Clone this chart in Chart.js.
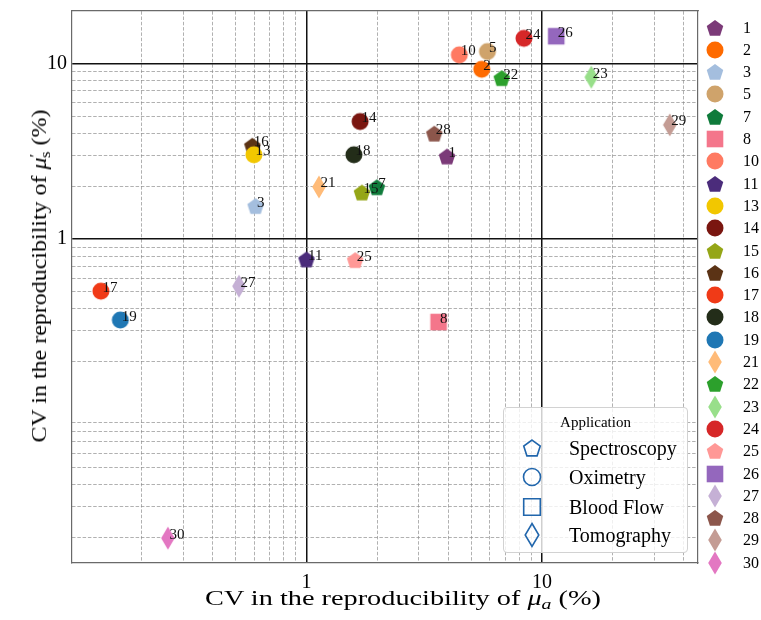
<!DOCTYPE html>
<html>
<head>
<meta charset="utf-8">
<script src="https://cdn.jsdelivr.net/npm/chart.js@4.4.1/dist/chart.umd.min.js"></script>
<style>
  html, body { margin: 0; padding: 0; background: #fff; }
  #wrap { position: relative; width: 761px; height: 620px; overflow: hidden; font-family: "Liberation Serif", "Times New Roman", serif; color: #000; }
  #chart { position: absolute; left: 0; top: 0; }
  .axis-title { position: absolute; white-space: nowrap; line-height: 1; }
  .axis-title sub, .axis-title sup { font-size: 0.7em; line-height: 0; }
  .axis-title sup { vertical-align: 0.45em; }
  .axis-title sub { vertical-align: -0.25em; }
  #idLegend { position: absolute; left: 700px; top: 0; width: 61px; height: 620px; }
  .id-row { position: absolute; left: 0; height: 22px; display: flex; align-items: center; font-size: 16px; }
  .id-row .mk { width: 30px; height: 22px; display: flex; justify-content: center; align-items: center; }
  .id-row span { margin-left: 13px; }
  #appLegend { position: absolute; left: 503px; top: 407px; width: 185px; height: 146px; box-sizing: border-box;
    background: rgba(255, 255, 255, 0.8); border: 1px solid #d2d2d2; border-radius: 4px; }
  #appLegend .title { position: absolute; left: 0; right: 0; top: 7px; text-align: center; font-size: 15px; line-height: 15px; }
  .app-row { position: absolute; left: 12px; height: 26px; display: flex; align-items: center; font-size: 20px; }
  .app-row .mk { width: 32px; height: 26px; display: flex; justify-content: center; align-items: center; }
  .app-row span { margin-left: 21px; }
</style>
</head>
<body>
<div id="wrap">
  <canvas id="chart" width="761" height="620"></canvas>
  <div id="xTitle" class="axis-title" style="font-size:22px">CV in the reproducibility of <i>μ</i><sub><i>a</i></sub> (%)</div>
  <div id="yTitle" class="axis-title" style="font-size:20px">CV in the reproducibility of <i>μ</i><sup>′</sup><sub style="margin-left:-0.25em">s</sub> (%)</div>
  <div id="idLegend"></div>
  <div id="appLegend"><div class="title">Application</div></div>
</div>
<script>
const pointIds = ["1", "2", "3", "5", "7", "8", "10", "11", "13", "14", "15", "16", "17", "18", "19", "21", "22", "23", "24", "25", "26", "27", "28", "29", "30"];
const cvAbsorption = [3.95, 5.55, 0.608, 5.87, 1.99, 3.64, 4.46, 1.00, 0.598, 1.69, 1.72, 0.589, 0.134, 1.59, 0.162, 1.13, 6.75, 16.2, 8.39, 1.61, 11.5, 0.517, 3.49, 34.9, 0.258];
const cvScattering = [2.95, 9.27, 1.54, 11.7, 1.97, 0.337, 11.2, 0.765, 3.02, 4.67, 1.84, 3.40, 0.505, 3.02, 0.346, 1.98, 8.24, 8.35, 13.9, 0.758, 14.3, 0.539, 3.98, 4.47, 0.0198];
const pointApps = ["Spectroscopy", "Oximetry", "Spectroscopy", "Oximetry", "Spectroscopy", "Blood Flow", "Oximetry", "Spectroscopy",
  "Oximetry", "Oximetry", "Spectroscopy", "Spectroscopy", "Oximetry", "Oximetry", "Oximetry", "Tomography", "Spectroscopy",
  "Tomography", "Oximetry", "Spectroscopy", "Blood Flow", "Tomography", "Spectroscopy", "Tomography", "Tomography"];
const pointColors = ["#7b3a78", "#fe6a00", "#a4bede", "#cfa36b", "#0f7b3b", "#f4768b", "#ff7a62", "#4b2c7b", "#f2c700", "#7a1610",
  "#95a617", "#5b3315", "#f03a17", "#232d19", "#1f77b4", "#ffbb78", "#2ca02c", "#98df8a", "#d62728", "#ff9896",
  "#9467bd", "#c5b0d5", "#8c564b", "#c49c94", "#e377c2"];

const applications = ["Spectroscopy", "Oximetry", "Blood Flow", "Tomography"];
const appShapes = { "Spectroscopy": "pentagon", "Oximetry": "circle", "Blood Flow": "square", "Tomography": "diamond" };

const xMajorTicks = [1, 10];
const xMinorTicks = [0.2, 0.3, 0.4, 0.5, 0.6, 0.7, 0.8, 0.9, 2, 3, 4, 5, 6, 7, 8, 9, 20, 30, 40];
const yMajorTicks = [1, 10];
const yMinorTicks = [0.02, 0.03, 0.04, 0.05, 0.06, 0.07, 0.08, 0.09, 0.2, 0.3, 0.4, 0.5, 0.6, 0.7, 0.8, 0.9, 2, 3, 4, 5, 6, 7, 8, 9];
const xRange = [0.101, 46];
const yRange = [0.0143, 19.9];

const appColor = "#2166ac";
Chart.defaults.font.family = '"Liberation Serif", "Times New Roman", serif';
Chart.defaults.color = "#000";

// marker glyphs drawn on small canvases, used as pointStyle images
function makeMarker(shape, fill, stroke) {
  const c = document.createElement("canvas");
  c.width = 22;
  c.height = 28;
  const ctx = c.getContext("2d");
  const cx = 11, cy = 14;
  ctx.beginPath();
  if (shape === "circle") {
    ctx.arc(cx, cy, 8.5, 0, Math.PI * 2);
  } else if (shape === "square") {
    ctx.rect(cx - 8.3, cy - 8.3, 16.6, 16.6);
  } else if (shape === "pentagon") {
    for (let k = 0; k < 5; k++) {
      const a = -Math.PI / 2 + k * 2 * Math.PI / 5;
      const px = cx + 8.7 * Math.cos(a);
      const py = cy + 0.8 + 8.7 * Math.sin(a);
      if (k === 0) ctx.moveTo(px, py); else ctx.lineTo(px, py);
    }
    ctx.closePath();
  } else {
    ctx.moveTo(cx, cy - 11.5);
    ctx.lineTo(cx + 6.8, cy);
    ctx.lineTo(cx, cy + 11.5);
    ctx.lineTo(cx - 6.8, cy);
    ctx.closePath();
  }
  if (fill) {
    ctx.fillStyle = fill;
    ctx.fill();
  }
  if (stroke) {
    ctx.strokeStyle = stroke;
    ctx.lineWidth = 1.6;
    ctx.stroke();
  }
  return c;
}

function useTicks(values) {
  return (scale) => {
    scale.ticks = values.map((v) => ({ value: v }));
  };
}

function fixedSize(size) {
  return (scale) => {
    if (scale.isHorizontal()) scale.height = size;
    else scale.width = size;
    scale.paddingTop = scale.paddingBottom = scale.paddingLeft = scale.paddingRight = 0;
  };
}

const minorGrid = { color: "rgba(140,140,140,0.85)", lineWidth: 0.8, drawTicks: false };
const majorGrid = { color: "#111", lineWidth: 1.5, drawTicks: false };
const spine = { color: "#6a6a6a", width: 1.2 };

const pointLabels = {
  id: "pointLabels",
  afterDatasetsDraw(chart) {
    const ctx = chart.ctx;
    ctx.save();
    ctx.font = '15px "Liberation Serif", serif';
    ctx.fillStyle = "#111";
    ctx.textAlign = "left";
    ctx.textBaseline = "alphabetic";
    chart.data.datasets.forEach((ds, i) => {
      const el = chart.getDatasetMeta(i).data[0];
      ctx.fillText(ds.label, el.x + 1.5, el.y + 0.5);
    });
    ctx.restore();
  },
};

const datasets = pointIds.map((id, i) => ({
  label: id,
  data: [{ x: cvAbsorption[i], y: cvScattering[i] }],
  pointStyle: makeMarker(appShapes[pointApps[i]], pointColors[i]),
  pointRadius: 9,
  backgroundColor: pointColors[i],
  borderColor: pointColors[i],
}));

new Chart(document.getElementById("chart"), {
  type: "scatter",
  data: { datasets },
  plugins: [pointLabels],
  options: {
    responsive: false,
    animation: false,
    events: [],
    layout: { padding: { top: 11, right: 63, bottom: 0, left: 0 } },
    plugins: { legend: { display: false }, tooltip: { enabled: false } },
    scales: {
      x: {
        type: "logarithmic", position: "bottom", min: xRange[0], max: xRange[1],
        afterBuildTicks: useTicks(xMajorTicks), afterFit: fixedSize(57),
        ticks: { callback: (v) => String(v), font: { size: 20 }, padding: 8, maxRotation: 0, autoSkip: false },
        grid: majorGrid, border: spine,
      },
      xMinor: {
        type: "logarithmic", position: "top", min: xRange[0], max: xRange[1],
        afterBuildTicks: useTicks(xMinorTicks), afterFit: fixedSize(0),
        ticks: { display: false }, grid: minorGrid, border: { ...spine, dash: [3.5, 1.8] },
      },
      y: {
        type: "logarithmic", position: "left", min: yRange[0], max: yRange[1],
        afterBuildTicks: useTicks(yMajorTicks), afterFit: fixedSize(72),
        ticks: { callback: (v) => String(v), font: { size: 20 }, padding: 5, autoSkip: false },
        grid: majorGrid, border: spine,
      },
      yMinor: {
        type: "logarithmic", position: "right", min: yRange[0], max: yRange[1],
        afterBuildTicks: useTicks(yMinorTicks), afterFit: fixedSize(0),
        ticks: { display: false }, grid: minorGrid, border: { ...spine, dash: [3.5, 1.8] },
      },
    },
  },
});

// numbered legend on the right
const idLegend = document.getElementById("idLegend");
pointIds.forEach((id, i) => {
  const row = document.createElement("div");
  row.className = "id-row";
  row.style.top = (27.5 + 22.3 * i - 11) + "px";
  const mk = document.createElement("div");
  mk.className = "mk";
  mk.appendChild(makeMarker(appShapes[pointApps[i]], pointColors[i]));
  const txt = document.createElement("span");
  txt.textContent = id;
  row.appendChild(mk);
  row.appendChild(txt);
  idLegend.appendChild(row);
});

// application legend box
const appLegend = document.getElementById("appLegend");
const appRowCenters = [40, 69, 99, 127];
applications.forEach((app, i) => {
  const row = document.createElement("div");
  row.className = "app-row";
  row.style.top = (appRowCenters[i] - 13) + "px";
  const mk = document.createElement("div");
  mk.className = "mk";
  mk.appendChild(makeMarker(appShapes[app], null, appColor));
  const txt = document.createElement("span");
  txt.textContent = app;
  row.appendChild(mk);
  row.appendChild(txt);
  appLegend.appendChild(row);
});

// axis titles, stretched to the span they take in the figure
function placeTitle(el, cx, cy, span, rotate) {
  const s = span / el.offsetWidth;
  el.style.left = cx + "px";
  el.style.top = cy + "px";
  el.style.transform = "translate(-50%, -50%) " + (rotate ? "rotate(-90deg) " : "") + "scaleX(" + s + ")";
}
placeTitle(document.getElementById("xTitle"), 403, 597.5, 396, false);
placeTitle(document.getElementById("yTitle"), 38.5, 275.5, 333, true);
</script>
</body>
</html>
